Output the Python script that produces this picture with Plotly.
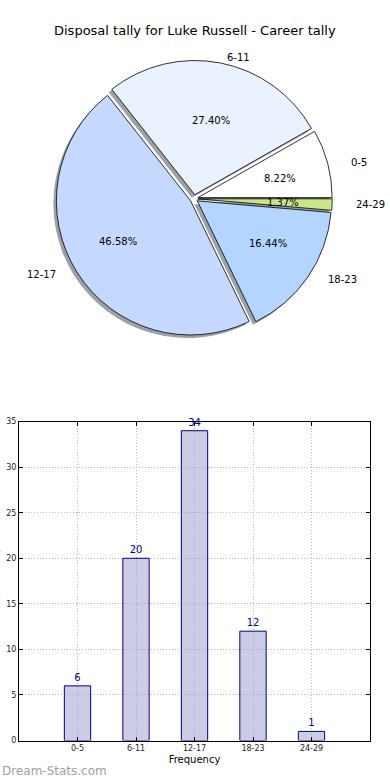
import numpy as np
import plotly.graph_objects as go

W, H = 390, 780

# ---- data ----
categories = ["0-5", "6-11", "12-17", "18-23", "24-29"]
counts = [6, 20, 34, 12, 1]
pie_colors = ["#ffffff", "#eaf1ff", "#c5d9ff", "#b3d5ff", "#c8e68a"]
y_ticks = [0, 5, 10, 15, 20, 25, 30, 35]
title_text = "Disposal tally for Luke Russell - Career tally"

FONT = "DejaVu Sans"

# empirical vertical correction of the screenshot
def Y(y):
    return (y - 3.3) / 0.9887

def px(x):
    return x / W

def py(y):
    return 1 - Y(y) / H

# ---- pie geometry (pixels) ----
cx, cy = 194, 198
R = 135 / 0.9887 ** 0.5
pull = 0.03
half = R * (1 + pull)
sh_dx, sh_dy = -3, 3
total = float(sum(counts))
rot = 90 - 360.0 * counts[0] / total   # first slice starts at 3 o'clock


def domain(cxp, cyp):
    yc = Y(cyp)
    return dict(x=[px(cxp - half), px(cxp + half)],
                y=[1 - (yc + half) / H, 1 - (yc - half) / H])


fig = go.Figure()

# shadow pie
fig.add_trace(go.Pie(
    values=counts, labels=categories, sort=False, direction="counterclockwise",
    rotation=rot, pull=[pull] * len(counts), textinfo="none", hoverinfo="skip",
    marker=dict(colors=["rgba(60,65,75,0.5)"] * len(counts), line=dict(width=0)),
    domain=domain(cx + sh_dx, cy + sh_dy), showlegend=False,
))
# main pie
fig.add_trace(go.Pie(
    values=counts, labels=categories, sort=False, direction="counterclockwise",
    rotation=rot, pull=[pull] * len(counts), textinfo="none", hoverinfo="skip",
    marker=dict(colors=pie_colors, line=dict(color="black", width=0.8)),
    domain=domain(cx, cy), showlegend=False,
))

# label placement (reference pie is slightly elliptical)
Rx, Ry = 142, 127
annotations = []
cum = np.cumsum(counts)
for lab, v, c in zip(categories, counts, cum):
    theta = np.deg2rad(360.0 * (c - v / 2.0) / total)
    ct, st = np.cos(theta), np.sin(theta)
    annotations.append(dict(
        x=px(cx + (0.6 + pull) * Rx * ct), y=py(cy - (0.6 + pull) * Ry * st),
        xref="paper", yref="paper", text="%.2f%%" % (100.0 * v / total),
        showarrow=False, xanchor="center", yanchor="middle",
        font=dict(family=FONT, size=10, color="black"),
    ))
    annotations.append(dict(
        x=px(cx + (1.1 + pull) * Rx * ct), y=py(cy - (1.1 + pull) * Ry * st),
        xref="paper", yref="paper", text=lab, showarrow=False,
        xanchor="left" if ct > 0 else "right", yanchor="middle",
        font=dict(family=FONT, size=10, color="black"),
    ))

# ---- bar chart ----
fig.add_trace(go.Bar(
    x=categories, y=counts, width=0.45,
    marker=dict(color="rgba(153,153,205,0.5)", line=dict(color="#000080", width=1)),
    text=[str(v) for v in counts], textposition="outside", cliponaxis=False,
    constraintext="none",
    textfont=dict(family=FONT, size=10, color="#00008B"),
    hoverinfo="skip", showlegend=False, xaxis="x", yaxis="y",
))

axis_common = dict(
    showline=True, linecolor="black", linewidth=1, mirror="ticks",
    ticks="inside", ticklen=4, tickcolor="black",
    showgrid=True, gridcolor="#b8b8b8", griddash="1px,2px", gridwidth=1,
    zeroline=False, tickfont=dict(family=FONT, size=8, color="#222222"),
)

fig.update_layout(
    width=W, height=H, margin=dict(l=0, r=0, t=0, b=0),
    paper_bgcolor="white", plot_bgcolor="white",
    font=dict(family=FONT, color="black"),
    xaxis=dict(domain=[px(19), px(370)], anchor="y", type="category",
               categoryorder="array", categoryarray=categories, range=[-1, 5],
               title=dict(text="Frequency", font=dict(family=FONT, size=10), standoff=3),
               **axis_common),
    yaxis=dict(domain=[py(740), py(421)], anchor="x", range=[0, 35],
               tickvals=y_ticks, **axis_common),
    annotations=annotations + [
        dict(x=px(195), y=py(30), xref="paper", yref="paper", text=title_text,
             showarrow=False, xanchor="center", yanchor="middle",
             font=dict(family=FONT, size=13, color="black")),
        dict(x=px(-5), y=py(580), xref="paper", yref="paper", text="Disposal tally",
             showarrow=False, textangle=-90, xanchor="center", yanchor="middle",
             font=dict(family=FONT, size=10, color="black")),
        dict(x=px(0), y=py(770), xref="paper", yref="paper", text="Dream-Stats.com",
             showarrow=False, xanchor="left", yanchor="middle",
             font=dict(family=FONT, size=12, color="#a0a0a0")),
    ],
)

fig.write_html(
    "out.html",
    config={"displayModeBar": False},
    post_script="document.body.style.margin='0';document.body.style.overflow='hidden';",
)
